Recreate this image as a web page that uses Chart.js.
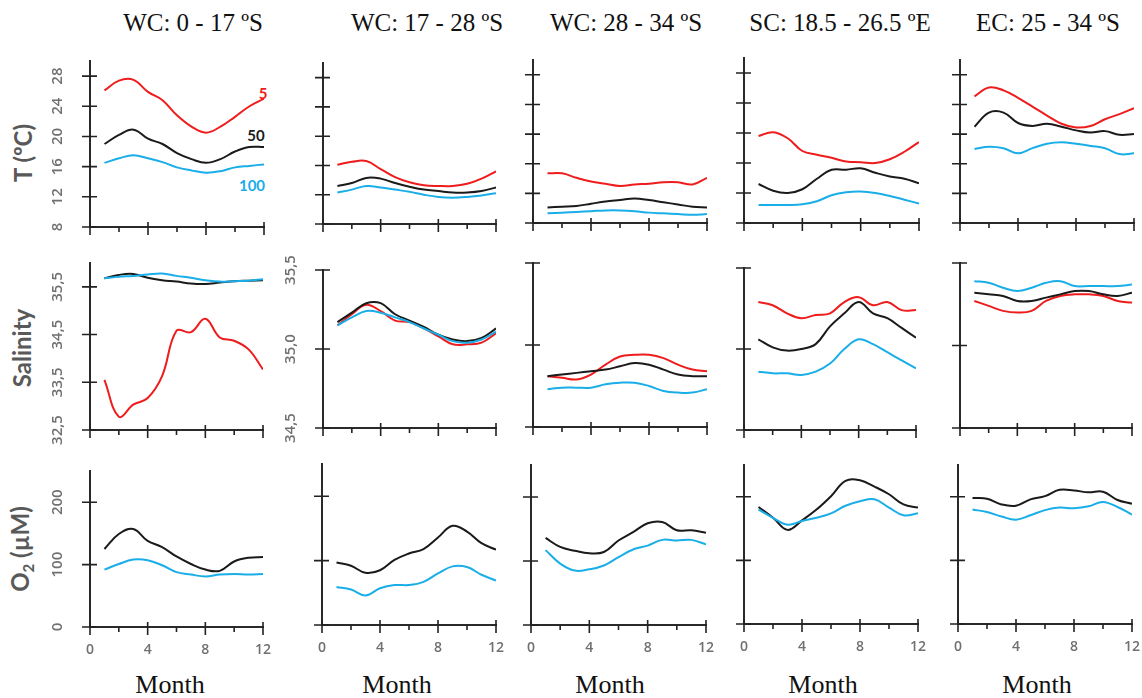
<!DOCTYPE html>
<html>
<head>
<meta charset="utf-8">
<script src="https://cdn.jsdelivr.net/npm/chart.js@4/dist/chart.umd.min.js"></script>
<style>
  body { margin: 0; background: #fff; }
  #wrap { position: relative; width: 1142px; height: 698px; overflow: hidden; }
  .panel { position: absolute; }
  .title, .month { position: absolute; transform: translate(-50%, -50%); white-space: nowrap;
    font-family: "Liberation Serif", serif; font-size: 25px; line-height: 1; color: #111; }
  .month { font-size: 26px; }
  .rowlab { position: absolute; transform: translate(-50%, -50%) rotate(-90deg); white-space: nowrap;
    font-family: Lato, sans-serif; font-weight: bold; font-size: 24px; line-height: 1; color: #595959; }
  .depth { position: absolute; transform: translate(-50%, -50%); font-family: Lato, sans-serif;
    font-weight: bold; font-size: 15px; line-height: 1; }
</style>
</head>
<body>
<div id="wrap">
  <div class="rowlab" style="left:23px;top:153px">T (ºC)</div>
  <div class="rowlab" style="left:22px;top:348px">Salinity</div>
  <div class="rowlab" style="left:22px;top:549px">O<sub style="font-size:15px">2</sub> (µM)</div>
  <div class="depth" style="left:263px;top:93px;color:#ee1c1c">5</div>
  <div class="depth" style="left:256px;top:135px;color:#1a1a1a">50</div>
  <div class="depth" style="left:252px;top:185px;color:#1aaee8">100</div>
</div>
<script>
const months = [1, 2, 3, 4, 5, 6, 7, 8, 9, 10, 11, 12];
const regions = ['WC: 0 - 17 ºS', 'WC: 17 - 28 ºS', 'WC: 28 - 34 ºS', 'SC: 18.5 - 26.5 ºE', 'EC: 25 - 34 ºS'];

// temperature (ºC) at 5, 50 and 100 m, one row per region
const temp5 = [
  [26.1, 27.4, 27.5, 25.9, 24.8, 22.8, 21.3, 20.5, 21.3, 22.6, 24.0, 25.0],
  [16.1, 16.5, 16.6, 15.5, 14.4, 13.7, 13.3, 13.2, 13.2, 13.5, 14.2, 15.2],
  [14.7, 14.7, 14.1, 13.6, 13.3, 13.0, 13.2, 13.3, 13.5, 13.5, 13.2, 14.1],
  [19.6, 20.1, 19.3, 17.6, 17.1, 16.7, 16.2, 16.1, 16.0, 16.5, 17.5, 18.8],
  [25.1, 26.3, 25.9, 24.9, 23.7, 22.5, 21.4, 20.9, 21.1, 22.0, 22.7, 23.5]
];
const temp50 = [
  [19.0, 20.2, 20.9, 19.7, 19.0, 17.8, 17.0, 16.5, 17.0, 18.0, 18.6, 18.6],
  [13.2, 13.6, 14.3, 14.2, 13.6, 13.1, 12.7, 12.5, 12.3, 12.3, 12.5, 13.0],
  [10.1, 10.2, 10.3, 10.6, 10.9, 11.1, 11.3, 11.1, 10.8, 10.5, 10.2, 10.1],
  [13.2, 12.3, 12.0, 12.5, 13.9, 15.1, 15.1, 15.3, 14.7, 14.2, 13.9, 13.3],
  [21.0, 22.9, 22.9, 21.5, 21.1, 21.4, 21.0, 20.5, 20.2, 20.4, 19.9, 20.0]
];
const temp100 = [
  [16.5, 17.1, 17.5, 17.1, 16.6, 15.9, 15.5, 15.2, 15.4, 15.9, 16.1, 16.3],
  [12.3, 12.7, 13.2, 13.0, 12.7, 12.4, 12.0, 11.7, 11.6, 11.7, 11.9, 12.2],
  [9.3, 9.4, 9.5, 9.6, 9.7, 9.7, 9.6, 9.4, 9.3, 9.2, 9.1, 9.2],
  [10.4, 10.4, 10.4, 10.5, 10.9, 11.7, 12.1, 12.2, 12.0, 11.6, 11.1, 10.6],
  [18.0, 18.3, 18.1, 17.4, 18.1, 18.7, 18.9, 18.7, 18.4, 18.1, 17.3, 17.4]
];

// salinity
const sal5 = [
  [33.55, 32.78, 33.03, 33.17, 33.63, 34.58, 34.55, 34.83, 34.44, 34.37, 34.19, 33.77],
  [35.15, 35.22, 35.28, 35.24, 35.18, 35.17, 35.13, 35.08, 35.03, 35.03, 35.04, 35.10],
  [34.81, 34.80, 34.79, 34.82, 34.88, 34.93, 34.94, 34.94, 34.92, 34.88, 34.85, 34.84],
  [35.29, 35.27, 35.22, 35.19, 35.21, 35.22, 35.29, 35.32, 35.27, 35.29, 35.24, 35.24],
  [35.27, 35.24, 35.21, 35.20, 35.21, 35.27, 35.30, 35.31, 35.31, 35.30, 35.27, 35.26]
];
const sal50 = [
  [35.68, 35.75, 35.77, 35.69, 35.64, 35.61, 35.57, 35.56, 35.59, 35.62, 35.63, 35.64],
  [35.17, 35.23, 35.29, 35.29, 35.22, 35.18, 35.14, 35.09, 35.06, 35.05, 35.07, 35.13],
  [34.81, 34.82, 34.83, 34.84, 34.85, 34.87, 34.89, 34.88, 34.85, 34.82, 34.81, 34.81],
  [35.06, 35.01, 34.99, 35.00, 35.03, 35.14, 35.22, 35.29, 35.22, 35.19, 35.13, 35.07],
  [35.32, 35.31, 35.30, 35.27, 35.27, 35.29, 35.31, 35.33, 35.33, 35.31, 35.30, 35.32]
];
const sal100 = [
  [35.68, 35.71, 35.73, 35.76, 35.78, 35.73, 35.69, 35.64, 35.61, 35.62, 35.63, 35.66],
  [35.15, 35.20, 35.24, 35.23, 35.20, 35.17, 35.13, 35.09, 35.05, 35.04, 35.06, 35.11],
  [34.73, 34.74, 34.74, 34.74, 34.76, 34.77, 34.77, 34.75, 34.72, 34.71, 34.71, 34.73],
  [34.86, 34.85, 34.85, 34.84, 34.86, 34.91, 35.00, 35.06, 35.03, 34.98, 34.93, 34.88],
  [35.39, 35.38, 35.35, 35.33, 35.35, 35.38, 35.39, 35.36, 35.36, 35.36, 35.36, 35.37]
];

// oxygen (µM) at 50 and 100 m
const oxy50 = [
  [125, 149, 157, 138, 128, 113, 101, 92, 90, 105, 111, 112],
  [97, 92, 81, 85, 101, 111, 118, 136, 154, 145, 127, 117],
  [136, 122, 116, 112, 114, 132, 145, 159, 161, 148, 148, 144],
  [184, 167, 148, 163, 180, 201, 225, 226, 216, 204, 188, 183],
  [198, 197, 188, 186, 196, 201, 211, 210, 207, 208, 195, 189]
];
const oxy100 = [
  [92, 101, 108, 107, 99, 88, 84, 81, 84, 85, 84, 85],
  [59, 55, 46, 57, 62, 62, 67, 80, 91, 90, 78, 69],
  [117, 96, 85, 87, 93, 106, 118, 124, 133, 132, 133, 126],
  [180, 167, 156, 162, 167, 174, 186, 193, 196, 183, 171, 174],
  [180, 176, 169, 164, 171, 179, 183, 182, 185, 192, 184, 172]
];

const monthTicks = [0, 2, 4, 6, 8, 10, 12];
const monthLabels = [0, 4, 8, 12];
const tempTicks = [8, 12, 16, 20, 24, 28];
const salTicksWide = [32.5, 33.5, 34.5, 35.5];
const salTicks = [34.5, 35.0, 35.5];
const oxyTicks = [0, 100, 200];

const RED = '#ee1c1c', BLACK = '#1a1a1a', BLUE = '#1aaee8';

// plot frames in page pixels: [left, right, top, bottom]
const frames = [
  [[90, 264, 61, 227], [323, 496, 63, 224], [533, 707, 60, 223], [744, 919, 58, 223], [960, 1134, 60, 223]],
  [[90, 263, 263, 430], [323, 496, 270, 428], [533, 707, 263, 427], [744, 916, 268, 430], [960, 1132, 263, 428]],
  [[90, 263, 471, 627], [322, 496, 464, 625], [531, 706, 465, 625], [744, 918, 465, 624], [958, 1132, 465, 624]]
];
const pad = { left: 50, right: 10, top: 26, bottom: 40 };
const titleX = [193, 427, 626, 840, 1048];
const monthX = [170, 397, 610, 823, 1037];

const rows = [
  { series: [[temp100, BLUE], [temp50, BLACK], [temp5, RED]],
    range: c => [8, 30], ticks: c => tempTicks, comma: false },
  { series: [[sal100, BLUE], [sal50, BLACK], [sal5, RED]],
    range: c => c === 0 ? [32.5, 36] : [34.5, 35.5], ticks: c => c === 0 ? salTicksWide : salTicks, comma: true },
  { series: [[oxy100, BLUE], [oxy50, BLACK]],
    range: c => [0, 250], ticks: c => oxyTicks, comma: false }
];

// tick marks crossing the axes plus rotated y labels
const axisMarks = {
  id: 'axisMarks',
  afterDraw(chart, args, opts) {
    const { ctx } = chart;
    const x = chart.scales.x, y = chart.scales.y;
    const left = x.left, bottom = y.bottom;
    ctx.save();
    ctx.strokeStyle = '#222';
    ctx.lineWidth = 1.6;
    ctx.beginPath();
    y.ticks.forEach(t => {
      const py = y.getPixelForValue(t.value);
      ctx.moveTo(left - 8, py);
      ctx.lineTo(left + 7, py);
    });
    x.ticks.forEach(t => {
      const px = x.getPixelForValue(t.value);
      const major = t.value % 4 === 0;
      ctx.moveTo(px, bottom - (major ? 5 : 0));
      ctx.lineTo(px, bottom + (major ? 8 : 5));
    });
    ctx.stroke();

    ctx.fillStyle = '#707070';
    ctx.font = '600 15px "Open Sans"';
    ctx.textAlign = 'center';
    ctx.textBaseline = 'middle';
    if (opts.yLabels) {
      y.ticks.forEach(t => {
        const py = y.getPixelForValue(t.value);
        ctx.save();
        ctx.translate(left - 32, py);
        ctx.rotate(-Math.PI / 2);
        ctx.fillText(opts.comma ? t.value.toFixed(1).replace('.', ',') : String(t.value), 0, 0);
        ctx.restore();
      });
    }
    if (opts.xLabels) {
      ctx.font = '600 14px "Open Sans"';
      x.ticks.filter(t => monthLabels.includes(t.value)).forEach(t => {
        ctx.fillText(String(t.value), x.getPixelForValue(t.value), bottom + 23);
      });
    }
    ctx.restore();
  }
};

const wrap = document.getElementById('wrap');

regions.forEach((name, c) => {
  const t = document.createElement('div');
  t.className = 'title';
  t.style.left = titleX[c] + 'px';
  t.style.top = '22px';
  t.textContent = name;
  wrap.appendChild(t);

  const m = document.createElement('div');
  m.className = 'month';
  m.style.left = monthX[c] + 'px';
  m.style.top = '685px';
  m.textContent = 'Month';
  wrap.appendChild(m);
});

rows.forEach((row, r) => {
  frames[r].forEach(([x0, x1, y0, y1], c) => {
    const div = document.createElement('div');
    div.className = 'panel';
    div.style.left = (x0 - pad.left) + 'px';
    div.style.top = (y0 - pad.top) + 'px';
    div.style.width = (x1 - x0 + pad.left + pad.right) + 'px';
    div.style.height = (y1 - y0 + pad.top + pad.bottom) + 'px';
    const canvas = document.createElement('canvas');
    div.appendChild(canvas);
    wrap.appendChild(div);

    const [ymin, ymax] = row.range(c);
    const yt = row.ticks(c);

    new Chart(canvas, {
      type: 'line',
      data: {
        labels: months,
        datasets: row.series.map(([vals, color]) => ({
          data: vals[c].map((v, i) => ({ x: months[i], y: v })),
          borderColor: color,
          borderWidth: 2,
          pointRadius: 0,
          tension: 0.4,
          fill: false
        }))
      },
      options: {
        responsive: true,
        maintainAspectRatio: false,
        animation: false,
        events: [],
        layout: { padding: pad },
        scales: {
          x: {
            type: 'linear', min: 0, max: 12,
            afterBuildTicks: s => { s.ticks = monthTicks.map(v => ({ value: v })); },
            ticks: { display: false },
            grid: { display: false, drawTicks: false },
            border: { display: true, color: '#2a2a2a', width: 2 }
          },
          y: {
            min: ymin, max: ymax,
            afterBuildTicks: s => { s.ticks = yt.map(v => ({ value: v })); },
            ticks: { display: false },
            grid: { display: false, drawTicks: false },
            border: { display: true, color: '#2a2a2a', width: 2 }
          }
        },
        plugins: {
          legend: { display: false },
          tooltip: { enabled: false },
          axisMarks: {
            yLabels: c === 0 || (r === 1 && c === 1),
            xLabels: r === 2,
            comma: row.comma
          }
        }
      },
      plugins: [axisMarks]
    });
  });
});
</script>
</body>
</html>
